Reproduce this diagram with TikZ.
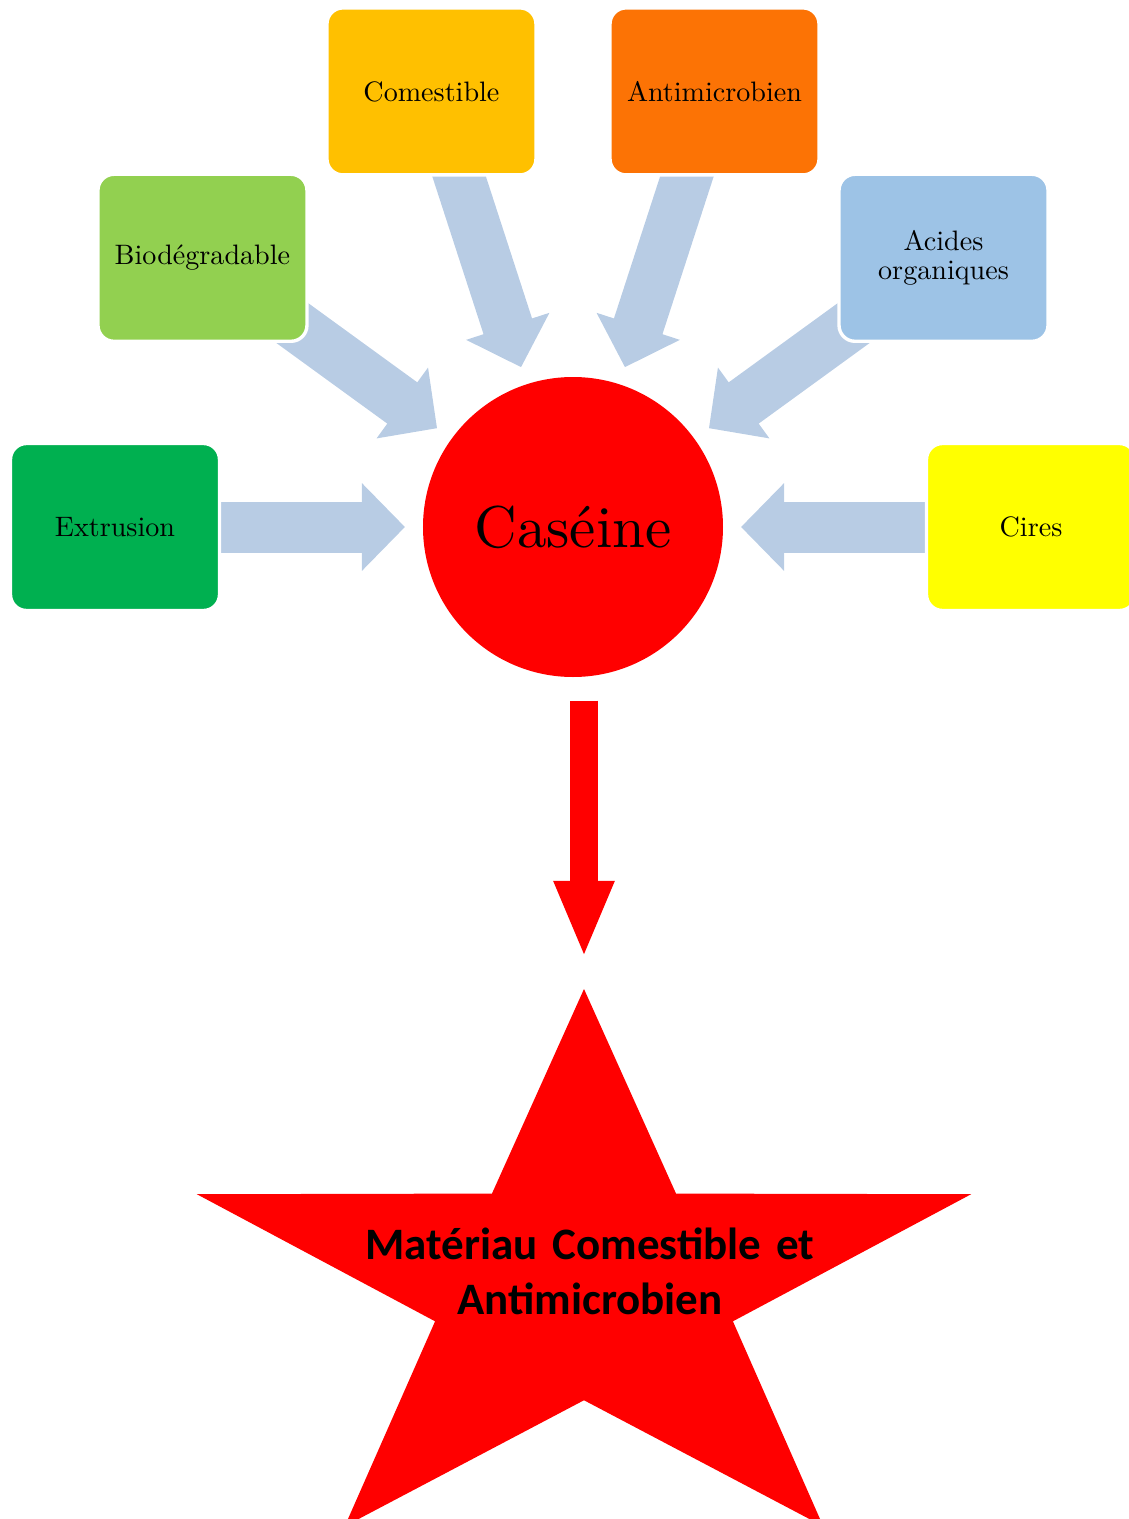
\documentclass[tikz,border=0pt]{standalone}
\usepackage{fontspec}
\usepackage{xcolor}
\usepackage{tikz}
\usetikzlibrary{
  arrows.meta,
  shapes.geometric,
  positioning,
  calc,
  backgrounds
}
\newfontfamily\starfont{Carlito}
\definecolor{csExtr}{HTML}{00B050}
\definecolor{csBio}{HTML}{92D050}
\definecolor{csCom}{HTML}{FFC000}
\definecolor{csAnti}{HTML}{FC7305}
\definecolor{csAcid}{HTML}{9DC3E6}
\definecolor{csCires}{HTML}{FFFF00}
\definecolor{csRed}{HTML}{FF0000}
\definecolor{csArrow}{HTML}{B8CCE4}
\tikzset{
  csnode/.style={
    draw=white, line width=1.2pt, rounded corners=2mm,
    minimum width=26.125mm, minimum height=20.875mm, inner sep=0pt,
    font=\fontsize{10pt}{10pt}\selectfont, align=center
  },
  core/.style={circle, fill=csRed, minimum size=37.5mm, inner sep=0pt, font=\normalsize},
  goalstar/.style={
    star, star points=5, star point ratio=2.6, fill=csRed,
    minimum size=74.25mm, inner sep=0pt, outer sep=0pt
  },
  goaltag/.style={font=\starfont\bfseries\fontsize{16pt}{19.6pt}\selectfont, align=center, text width=60mm},
  feed/.style={-{Triangle[length=5.375mm, width=10.625mm]}, line width=6.375mm, draw=csArrow},
  result/.style={-{Triangle[length=9.625mm, width=6.875mm]}, line width=3.5mm, draw=csRed}
}

\begin{document}
\begin{tikzpicture}
  \useasboundingbox (-7.1625,-12.4) rectangle (6.95,6.5875);
  % centre and the six inputs
  \node[core] (cas) at (0,0) {\scalebox{2.1}{Caséine}};
  \node[csnode, fill=csExtr] (extr) at (180:5.725) {Extrusion};
  \node[csnode, fill=csBio] (bio) at (144:5.725) {Biodégradable};
  \node[csnode, fill=csCom] (com) at (108:5.725) {Comestible};
  \node[csnode, fill=csAnti] (anti) at (72:5.725) {Antimicrobien};
  \node[csnode, fill=csAcid] (acid) at (36:5.725) {Acides\\organiques};
  \node[csnode, fill=csCires] (cires) at (0:5.725) {Cires};
  % result star
  \begin{scope}[shift={(0.1375,-9.4875)}, xscale=1.3704]
    \node[goalstar, transform shape] (goal) at (0,0) {};
  \end{scope}
  \node[goaltag] (goaltxt) at ($(goal.center)+(0.075,0.18)$) {Matériau Comestible et\\Antimicrobien};
  % arrows
  \begin{scope}[on background layer]
    \draw[feed] ($(cas.center)!4.75cm!(extr.center)$) -- ($(cas.center)!2.1cm!(extr.center)$);
    \draw[feed] ($(cas.center)!4.75cm!(bio.center)$) -- ($(cas.center)!2.1cm!(bio.center)$);
    \draw[feed] ($(cas.center)!4.75cm!(com.center)$) -- ($(cas.center)!2.1cm!(com.center)$);
    \draw[feed] ($(cas.center)!4.75cm!(anti.center)$) -- ($(cas.center)!2.1cm!(anti.center)$);
    \draw[feed] ($(cas.center)!4.75cm!(acid.center)$) -- ($(cas.center)!2.1cm!(acid.center)$);
    \draw[feed] ($(cas.center)!4.75cm!(cires.center)$) -- ($(cas.center)!2.1cm!(cires.center)$);
  \end{scope}
  \draw[result] ($(cas.south -| goal.north)+(0,-0.2875)$) -- ($(goal.north)+(0,0.3875)$);
\end{tikzpicture}
\end{document}
